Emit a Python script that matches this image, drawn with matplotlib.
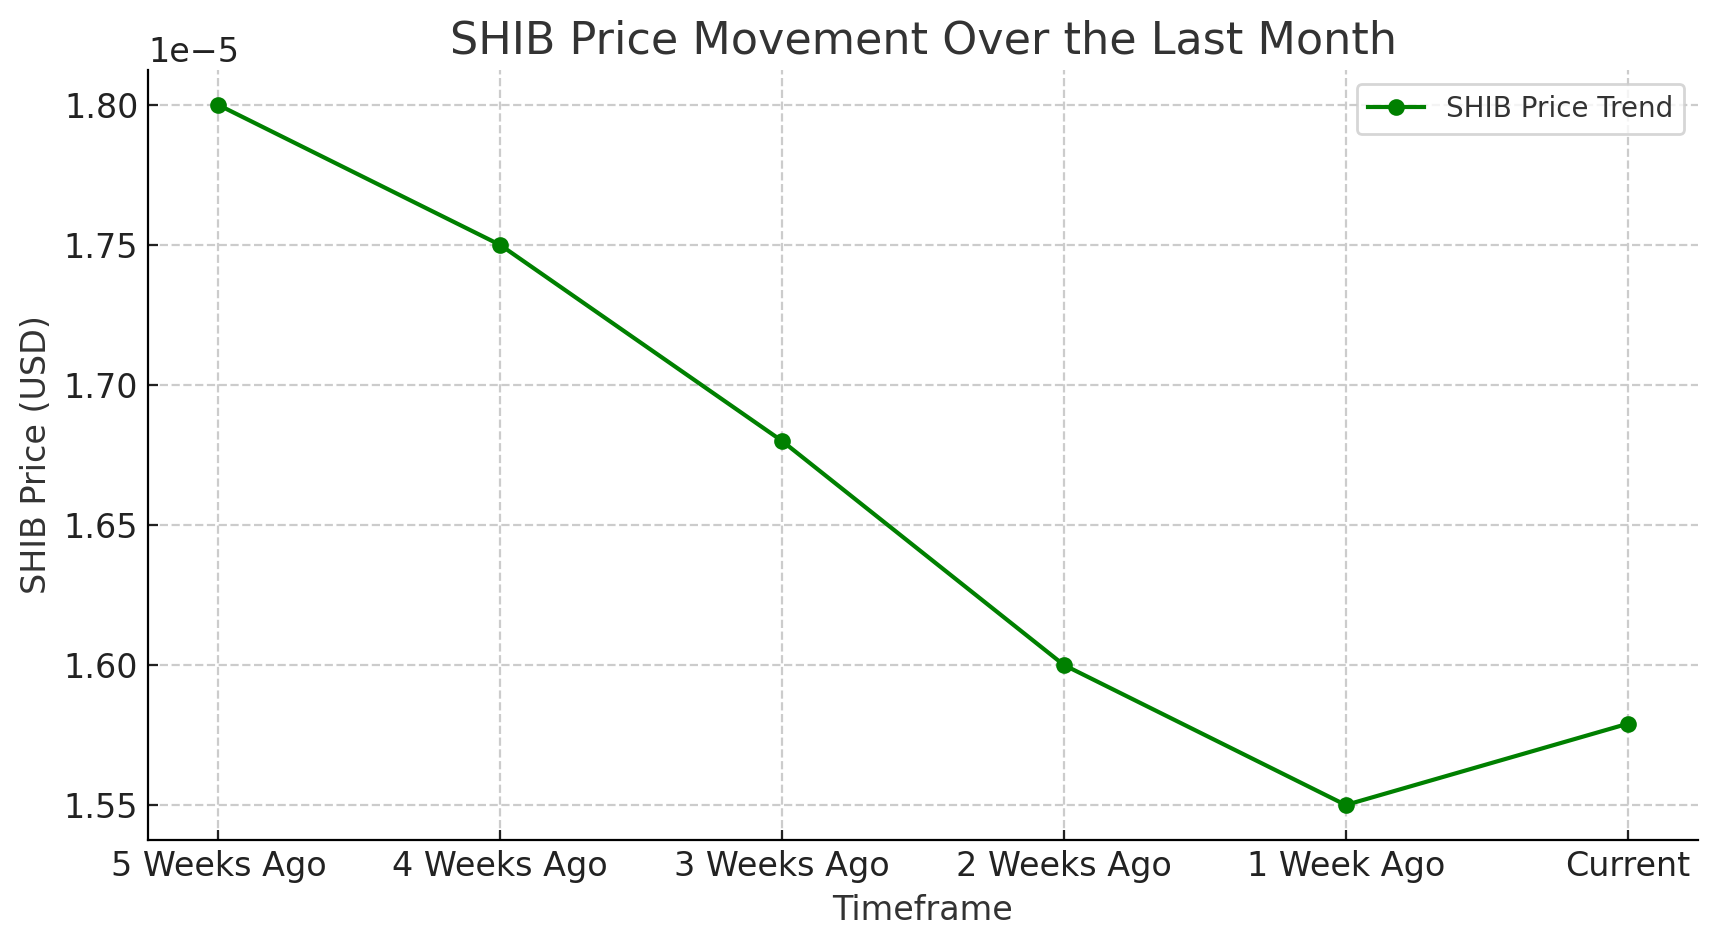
import matplotlib
matplotlib.use("Agg")
import matplotlib.pyplot as plt

timeframes = ["5 Weeks Ago", "4 Weeks Ago", "3 Weeks Ago", "2 Weeks Ago", "1 Week Ago", "Current"]
prices = [1.80e-5, 1.75e-5, 1.68e-5, 1.60e-5, 1.55e-5, 1.579e-5]

plt.rcParams['font.family'] = ['DejaVu Sans']
fig = plt.figure(figsize=(8.59, 4.735), dpi=200)
ax = fig.add_axes([148/1718, 1 - 840/947, (1698-148)/1718, (840-70)/947])

ax.plot(timeframes, prices, marker='o', color='green', linewidth=1.5, markersize=5, label='SHIB Price Trend')
ax.set_title('SHIB Price Movement Over the Last Month', fontsize=16, color='#333333')
ax.set_xlabel('Timeframe', fontsize=12, color='#333333')
ax.set_ylabel('SHIB Price (USD)', fontsize=12, color='#333333')
ax.grid(True, linestyle='--', color='#cccccc', linewidth=0.8)
ax.spines['top'].set_visible(False)
ax.spines['right'].set_visible(False)
ax.tick_params(labelsize=12, colors='#222222', direction='in')
ax.yaxis.offsetText.set_fontsize(12)
ax.legend(fontsize=10, loc='upper right', labelcolor='#333333')
ax.set_xlim(-0.25, 5.25)
ax.set_ylim(1.5375e-5, 1.8125e-5)
fig.savefig('out.png', dpi=200)
